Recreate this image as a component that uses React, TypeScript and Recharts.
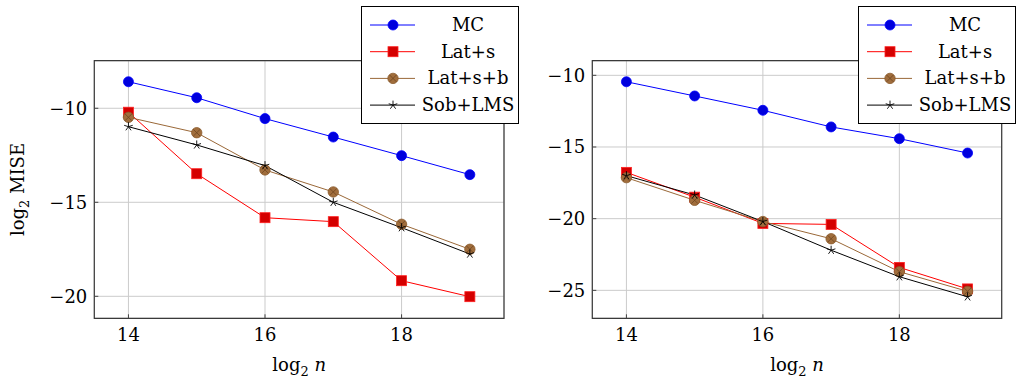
import React from "react";
import {
  LineChart,
  Line,
  XAxis,
  YAxis,
  CartesianGrid,
  ReferenceArea,
  Legend,
} from "recharts";

const logN = [14, 15, 16, 17, 18, 19];
const xTicks = [14, 16, 18];

const leftMC = [-8.59, -9.44, -10.55, -11.53, -12.52, -13.53];
const leftLatS = [-10.21, -13.48, -15.82, -16.03, -19.17, -20.02];
const leftLatSB = [-10.48, -11.3, -13.28, -14.45, -16.17, -17.5];
const leftSobLMS = [-10.98, -11.95, -13.05, -15.0, -16.35, -17.75];
const leftTicks = [-20, -15, -10];

const rightMC = [-10.45, -11.44, -12.44, -13.6, -14.42, -15.42];
const rightLatS = [-16.77, -18.5, -20.33, -20.4, -23.4, -24.9];
const rightLatSB = [-17.14, -18.72, -20.2, -21.4, -23.7, -25.07];
const rightSobLMS = [-17.0, -18.35, -20.2, -22.2, -24.05, -25.45];
const rightTicks = [-25, -20, -15, -10];

const FONT = "DejaVu Serif";
const MINUS = "\u2212";

const series = [
  { key: "mc", name: "MC", color: "#0000ff", mark: "circle" },
  { key: "lats", name: "Lat+s", color: "#ff0000", mark: "square" },
  { key: "latsb", name: "Lat+s+b", color: "#9a6838", mark: "otimes" },
  { key: "sob", name: "Sob+LMS", color: "#000000", mark: "star" },
];

const buildRows = (mc: number[], lats: number[], latsb: number[], sob: number[]) =>
  logN.map((n, i) => ({ n, mc: mc[i], lats: lats[i], latsb: latsb[i], sob: sob[i] }));

const leftRows = buildRows(leftMC, leftLatS, leftLatSB, leftSobLMS);
const rightRows = buildRows(rightMC, rightLatS, rightLatSB, rightSobLMS);

function Mark({ kind, cx, cy }: { kind: string; cx: number; cy: number }) {
  if (kind === "circle") {
    return <circle cx={cx} cy={cy} r={5} fill="#0000dd" stroke="#0000ff" strokeWidth={0.8} />;
  }
  if (kind === "square") {
    return <rect x={cx - 5} y={cy - 5} width={10} height={10} fill="#d40000" stroke="#ff2020" strokeWidth={0.8} />;
  }
  if (kind === "otimes") {
    const d = 3.4;
    return (
      <g>
        <circle cx={cx} cy={cy} r={5.2} fill="#a06d3c" stroke="#8a5a2c" strokeWidth={0.8} />
        <line x1={cx - d} y1={cy - d} x2={cx + d} y2={cy + d} stroke="#6e4520" strokeWidth={0.8} />
        <line x1={cx - d} y1={cy + d} x2={cx + d} y2={cy - d} stroke="#6e4520" strokeWidth={0.8} />
      </g>
    );
  }
  const arms = [0, 1, 2, 3, 4].map((k) => {
    const a = (-90 + k * 72) * (Math.PI / 180);
    return (
      <line key={k} x1={cx} y1={cy} x2={cx + 4.5 * Math.cos(a)} y2={cy + 4.5 * Math.sin(a)} stroke="#000" strokeWidth={0.9} />
    );
  });
  return <g>{arms}</g>;
}

const dotFor = (kind: string) => (p: any) => (
  <g key={`${kind}-${p.index}`}>
    <Mark kind={kind} cx={p.cx} cy={p.cy} />
  </g>
);

function LegendBox() {
  return (
    <div
      style={{
        width: 158,
        height: 118,
        boxSizing: "border-box",
        border: "1px solid #000",
        background: "#fff",
      }}
    >
      <svg width={156} height={116}>
        {series.map((s, i) => {
          const y = 18 + i * 26.7;
          return (
            <g key={s.key}>
              <line x1={8} y1={y} x2={53} y2={y} stroke={s.color} strokeWidth={1} />
              <Mark kind={s.mark} cx={31} cy={y} />
              <text x={106} y={y + 6} textAnchor="middle" fontFamily={FONT} fontSize={18} fill="#000">
                {s.name}
              </text>
            </g>
          );
        })}
      </svg>
    </div>
  );
}

const fmtTick = (v: number) => (v < 0 ? `${MINUS}${Math.abs(v)}` : `${v}`);

interface PanelProps {
  rows: any[];
  yDomain: [number, number];
  yTicks: number[];
  yWidth: number;
  rightMargin: number;
  legendLeft: number;
  showYLabel: boolean;
}

function Panel({ rows, yDomain, yTicks, yWidth, rightMargin, legendLeft, showYLabel }: PanelProps) {
  return (
    <LineChart
      width={508}
      height={379}
      data={rows}
      margin={{ top: 60.7, right: rightMargin, left: 0, bottom: 0 }}
    >
      <CartesianGrid stroke="#cbcbcb" strokeWidth={1} />
      <XAxis
        dataKey="n"
        type="number"
        domain={[13.5, 19.5]}
        ticks={xTicks}
        height={60.7}
        axisLine={false}
        tickSize={-4}
        tickLine={{ stroke: "#444" }}
        tickMargin={14}
        tick={{ fontFamily: FONT, fontSize: 18, fill: "#000" }}
        label={{
          content: (p: any) => {
            const vb = p.viewBox;
            return (
              <text x={vb.x + vb.width / 2} y={vb.y + 53} textAnchor="middle" fontFamily={FONT} fontSize={18} fill="#000">
                log<tspan fontSize={13} dy={5}>2</tspan>
                <tspan dy={-5} fontStyle="italic"> n</tspan>
              </text>
            );
          },
        }}
      />
      <YAxis
        type="number"
        domain={yDomain}
        ticks={yTicks}
        width={yWidth}
        axisLine={false}
        tickSize={-4}
        tickLine={{ stroke: "#444" }}
        tickMargin={11}
        tickFormatter={fmtTick}
        tick={{ fontFamily: FONT, fontSize: 18, fill: "#000" }}
        label={
          showYLabel
            ? {
                content: (p: any) => {
                  const vb = p.viewBox;
                  const cy = vb.y + vb.height / 2;
                  return (
                    <text
                      x={24}
                      y={cy}
                      transform={`rotate(-90 24 ${cy})`}
                      textAnchor="middle"
                      fontFamily={FONT}
                      fontSize={18}
                      fill="#000"
                    >
                      log<tspan fontSize={13} dy={5}>2</tspan>
                      <tspan dy={-5}> MISE</tspan>
                    </text>
                  );
                },
              }
            : undefined
        }
      />
      <ReferenceArea
        x1={13.5}
        x2={19.5}
        y1={yDomain[0]}
        y2={yDomain[1]}
        fill="none"
        fillOpacity={0}
        stroke="#3a3a3a"
        strokeWidth={1.2}
      />
      {series.map((s) => (
        <Line
          key={s.key}
          dataKey={s.key}
          name={s.name}
          stroke={s.color}
          strokeWidth={1}
          dot={dotFor(s.mark)}
          activeDot={false}
          isAnimationActive={false}
        />
      ))}
      <Legend
        layout="vertical"
        align="center"
        verticalAlign="middle"
        wrapperStyle={{ left: legendLeft, top: 6, width: 158, height: 118, right: "auto", bottom: "auto" }}
        content={() => <LegendBox />}
      />
    </LineChart>
  );
}

export default function App() {
  return (
    <div
      style={{
        position: "absolute",
        left: 0,
        top: 0,
        width: 1016,
        height: 379,
        background: "#fff",
        fontFamily: FONT,
      }}
    >
      <div style={{ position: "absolute", left: 0, top: 0 }}>
        <Panel
          rows={leftRows}
          yDomain={[-21.17, -7.47]}
          yTicks={leftTicks}
          yWidth={94.3}
          rightMargin={4}
          legendLeft={361}
          showYLabel={true}
        />
      </div>
      <div style={{ position: "absolute", left: 508, top: 0 }}>
        <Panel
          rows={rightRows}
          yDomain={[-26.95, -8.98]}
          yTicks={rightTicks}
          yWidth={84.3}
          rightMargin={14.3}
          legendLeft={350.3}
          showYLabel={false}
        />
      </div>
    </div>
  );
}
